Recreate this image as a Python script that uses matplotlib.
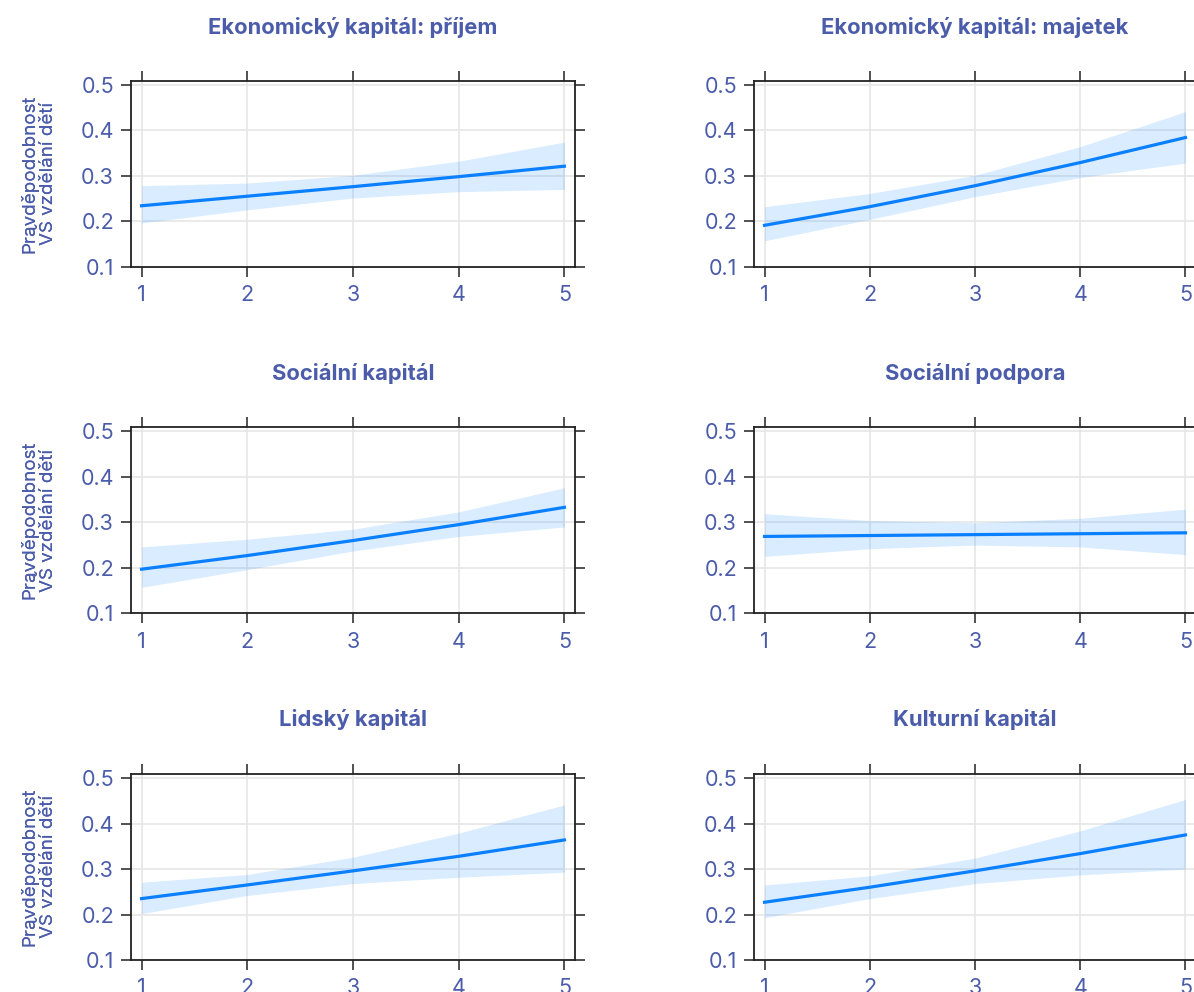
import matplotlib
matplotlib.use("Agg")
import matplotlib.pyplot as plt
import numpy as np

TXT = "#4B5CAA"
LINE = "#0A80FF"
plt.rcParams.update({"font.family": ["Inter", "DejaVu Sans"], "font.size": 14})

X = [1, 2, 3, 4, 5]
TITLES = ["Ekonomický kapitál: příjem", "Ekonomický kapitál: majetek",
          "Sociální kapitál", "Sociální podpora",
          "Lidský kapitál", "Kulturní kapitál"]
FIT = [
    [0.234, 0.255, 0.276, 0.298, 0.321],
    [0.191, 0.232, 0.278, 0.329, 0.384],
    [0.197, 0.227, 0.260, 0.295, 0.333],
    [0.269, 0.271, 0.273, 0.275, 0.277],
    [0.235, 0.265, 0.296, 0.328, 0.364],
    [0.227, 0.260, 0.296, 0.334, 0.375],
]
UPPER = [
    [0.278, 0.284, 0.301, 0.332, 0.374],
    [0.232, 0.261, 0.301, 0.364, 0.441],
    [0.246, 0.263, 0.285, 0.323, 0.376],
    [0.319, 0.304, 0.299, 0.309, 0.329],
    [0.271, 0.288, 0.326, 0.379, 0.441],
    [0.265, 0.285, 0.324, 0.384, 0.453],
]
LOWER = [
    [0.196, 0.225, 0.251, 0.265, 0.270],
    [0.157, 0.204, 0.254, 0.296, 0.328],
    [0.157, 0.196, 0.237, 0.269, 0.290],
    [0.225, 0.242, 0.250, 0.246, 0.229],
    [0.202, 0.242, 0.268, 0.282, 0.293],
    [0.193, 0.235, 0.268, 0.287, 0.300],
]
YTICKS = [0.1, 0.2, 0.3, 0.4, 0.5]

W, H = 1194, 992
fig = plt.figure(figsize=(W / 100, H / 100), dpi=100)
fig.patch.set_facecolor("white")

col_left = [131, 754]
col_width = [444, 442]
row_top = [80.7, 427.3, 774.0]
box_h = 186.0
title_y = [27, 374, 720]

for k, title in enumerate(TITLES):
    r, c = divmod(k, 2)
    ax = fig.add_axes([col_left[c] / W, 1 - (row_top[r] + box_h) / H,
                       col_width[c] / W, box_h / H])
    ax.fill_between(X, LOWER[k], UPPER[k], color=LINE, alpha=0.15, lw=0, zorder=2)
    ax.plot(X, FIT[k], color=LINE, lw=2.3, zorder=3)
    ax.set_xlim(0.9, 5.1)
    ax.set_ylim(0.1, 0.509)
    ax.set_xticks(X)
    ax.set_yticks(YTICKS)
    ax.set_yticklabels([f"{v:.1f}" for v in YTICKS])
    ax.grid(True, color="#e6e6e6", lw=1.2, zorder=0)
    ax.set_axisbelow(True)
    ax.tick_params(direction="out", length=7.2, width=1.1, color="#222222",
                   labelcolor=TXT, labelsize=15.5, top=True, right=True)
    ax.tick_params(axis="x", pad=6)
    ax.tick_params(axis="y", pad=5)
    for s in ax.spines.values():
        s.set_color("#222222")
        s.set_linewidth(1.3)
    ax.set_ylabel("Pravděpodobnost\nVŠ vzdělání dětí", color=TXT, fontsize=13.5,
                  linespacing=1.12)
    ax.yaxis.set_label_coords((57 - col_left[c]) / col_width[c], 0.5)
    fig.text((col_left[c] + col_width[c] / 2) / W, 1 - title_y[r] / H, title,
             ha="center", va="center", color=TXT, fontsize=15.8, fontweight="bold")

fig.savefig("out.png", dpi=100)
